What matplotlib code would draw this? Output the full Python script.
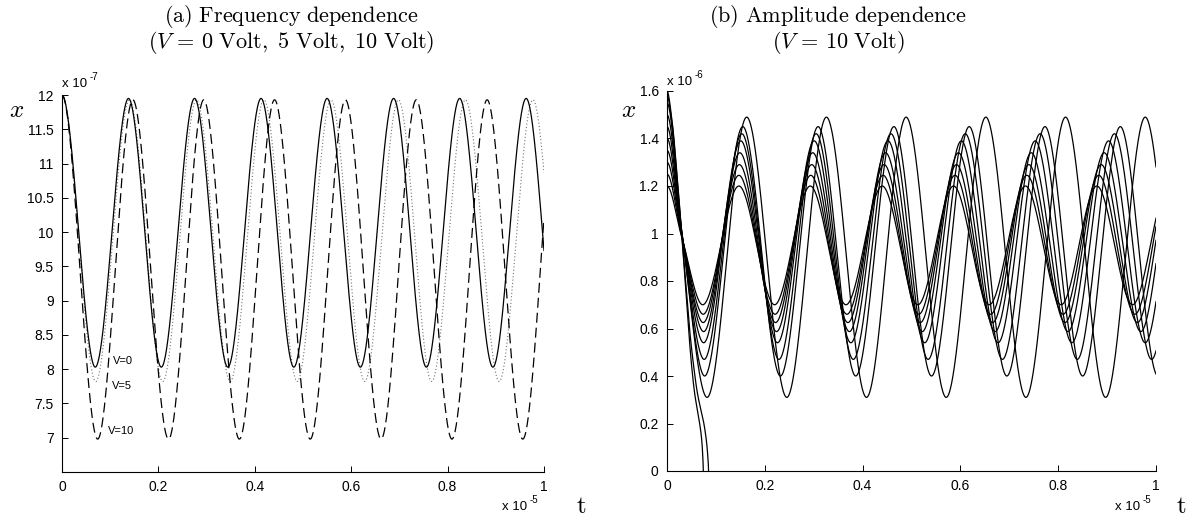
#!/usr/bin/env python3
"""Two-panel oscillation plot: (a) frequency vs bias voltage, (b) amplitude dependence."""
import matplotlib
matplotlib.use("Agg")
import matplotlib.pyplot as plt
import numpy as np

plt.rcParams["mathtext.fontset"] = "cm"
plt.rcParams["font.family"] = ["Liberation Sans", "DejaVu Sans"]

# ---- panel (a): extrema of x (units of 1e-7) ------------------------------
V0_T = [0, .069, .138, .206, .275, .344, .413, .481, .550, .619, .688, .756,
        .825, .894, .963, 1.031]
V0_HI, V0_LO = 11.95, 8.03
V5_T = [0, .070, .140, .209, .279, .349, .419, .488, .558, .628, .698, .767,
        .837, .907, .977, 1.046]
V5_HI, V5_LO = 11.93, 7.82
V10_T = [0, .074, .147, .221, .294, .368, .441, .515, .588, .662, .735, .809,
         .882, .956, 1.029]
V10_HI, V10_LO = 11.93, 6.98

# ---- panel (b): extrema of x (units of 1e-6), one row per amplitude --------
AMP_START = [1.20, 1.25, 1.30, 1.35, 1.40, 1.45, 1.50, 1.55]
AMP_HI = [1.20, 1.245, 1.29, 1.34, 1.39, 1.42, 1.45, 1.49]
AMP_LO = [0.70, 0.66, 0.625, 0.587, 0.54, 0.47, 0.40, 0.31]
AMP_T = [
    [0, .073, .147, .220, .293, .366, .440, .513, .586, .659, .733, .806, .879, .952, 1.025],
    [0, .074, .147, .221, .294, .368, .442, .515, .589, .662, .736, .810, .883, .957, 1.030],
    [0, .074, .148, .222, .296, .370, .444, .518, .592, .666, .740, .814, .888, .962, 1.036],
    [0, .075, .149, .224, .298, .373, .447, .522, .596, .671, .745, .820, .894, .969, 1.043],
    [0, .075, .151, .226, .301, .376, .452, .527, .602, .677, .753, .828, .903, .978, 1.054],
    [0, .076, .153, .229, .305, .381, .458, .534, .610, .686, .763, .839, .915, .991, 1.068],
    [0, .077, .155, .232, .309, .386, .464, .541, .618, .695, .773, .850, .927, 1.004],
    [0, .082, .163, .245, .326, .408, .489, .571, .652, .734, .815, .897, .978, 1.060],
]
# two runs that escape to x = 0
ESC_A_T = [0, .010, .020, .030, .037, .044, .050, .057, .062, .066, .0695, .0718, .0732, .0740, .0746]
ESC_A_X = [1.60, 1.48, 1.26, 1.00, .80, .60, .45, .32, .26, .21, .16, .11, .06, .02, -.05]
ESC_B_T = [0, .010, .020, .030, .038, .046, .054, .062, .069, .0745, .0785, .0815, .0835, .0847, .0855]
ESC_B_X = [1.58, 1.47, 1.25, 1.00, .80, .60, .45, .33, .26, .21, .16, .11, .06, .02, -.05]


def pchip(xk, yk, xs, end_slope=False):
    xk = np.asarray(xk, float)
    yk = np.asarray(yk, float)
    h = np.diff(xk)
    d = np.diff(yk) / h
    m = np.zeros_like(yk)
    for i in range(1, len(xk) - 1):
        if d[i - 1] * d[i] > 0:
            w1 = 2 * h[i] + h[i - 1]
            w2 = h[i] + 2 * h[i - 1]
            m[i] = (w1 + w2) / (w1 / d[i - 1] + w2 / d[i])
    if end_slope:
        m[-1] = d[-1]
    idx = np.clip(np.searchsorted(xk, xs) - 1, 0, len(xk) - 2)
    s = (xs - xk[idx]) / h[idx]
    h00 = 2 * s**3 - 3 * s**2 + 1
    h10 = s**3 - 2 * s**2 + s
    h01 = -2 * s**3 + 3 * s**2
    h11 = s**3 - s**2
    return (h00 * yk[idx] + h10 * h[idx] * m[idx]
            + h01 * yk[idx + 1] + h11 * h[idx] * m[idx + 1])


def alternating(times, start, hi, lo):
    vals = [start]
    for k in range(1, len(times)):
        vals.append(lo if k % 2 else hi)
    return vals


def style(ax, xlim, ylim, yticks, ylabels):
    ax.set_xlim(*xlim)
    ax.set_ylim(*ylim)
    ax.set_xticks([0, .2, .4, .6, .8, 1])
    ax.set_xticklabels(["0", "0.2", "0.4", "0.6", "0.8", "1"])
    ax.set_yticks(yticks)
    ax.set_yticklabels(ylabels)
    for side in ("top", "right"):
        ax.spines[side].set_visible(False)
    for side in ("left", "bottom"):
        ax.spines[side].set_linewidth(0.8)
    ax.tick_params(direction="in", length=4, width=0.7, labelsize=10, pad=6)


W, H = 1198, 520
fig = plt.figure(figsize=(W / 100, H / 100), dpi=100)
axL = fig.add_axes([62 / W, 48 / H, 482 / W, 377 / H])
axR = fig.add_axes([667 / W, 49 / H, 489 / W, 380 / H])

t = np.linspace(0, 1, 3000)

# panel (a)
axL.plot(t, pchip(V5_T, alternating(V5_T, 12.0, V5_HI, V5_LO), t),
         color="0.45", lw=0.8, linestyle=(0, (1, 2)))
axL.plot(t, pchip(V10_T, alternating(V10_T, 12.0, V10_HI, V10_LO), t),
         color="black", lw=0.9, linestyle=(0, (8, 4)))
axL.plot(t, pchip(V0_T, alternating(V0_T, 12.0, V0_HI, V0_LO), t),
         color="black", lw=0.9)
axL.text(0.106, 8.12, "V=0", fontsize=8, va="center")
axL.text(0.103, 7.76, "V=5", fontsize=8, va="center")
axL.text(0.096, 7.10, "V=10", fontsize=8, va="center")
style(axL, (0, 1), (6.5, 12), np.arange(7, 12.01, 0.5),
      ["7", "7.5", "8", "8.5", "9", "9.5", "10", "10.5", "11", "11.5", "12"])

# panel (b)
for k in range(len(AMP_T)):
    knots_t = list(AMP_T[k])
    knots_x = alternating(AMP_T[k], AMP_START[k], AMP_HI[k], AMP_LO[k])
    # all runs pass close to x = 1.0 at t = 0.03
    knots_t.insert(1, 0.03)
    knots_x.insert(1, 1.0 + 0.004 * (k - 3.5))
    axR.plot(t, pchip(knots_t, knots_x, t), color="black", lw=0.9)
for et, ex in ((ESC_A_T, ESC_A_X), (ESC_B_T, ESC_B_X)):
    te = np.linspace(0, et[-1], 600)
    axR.plot(te, pchip(et, ex, te, end_slope=True), color="black", lw=0.9)
style(axR, (0, 1), (0, 1.6), np.arange(0, 1.61, 0.2),
      ["0", "0.2", "0.4", "0.6", "0.8", "1", "1.2", "1.4", "1.6"])

# multipliers, axis labels and titles
for xpx, ypx, exp in ((62, 87, "-7"), (667, 85, "-6"), (502, 510, "-5"), (1115, 510, "-5")):
    fig.text(xpx / W, 1 - ypx / H, "x 10", fontsize=9.5, va="baseline")
    fig.text((xpx + 28) / W, 1 - (ypx - 7) / H, exp, fontsize=7, va="baseline")

fig.text(17 / W, 1 - 110 / H, r"$x$", fontsize=18, ha="center", va="center")
fig.text(629 / W, 1 - 110 / H, r"$x$", fontsize=18, ha="center", va="center")
fig.text(581 / W, 1 - 506 / H, r"$\mathrm{t}$", fontsize=18, ha="center", va="center")
fig.text(1181 / W, 1 - 506 / H, r"$\mathrm{t}$", fontsize=18, ha="center", va="center")

fig.text(291 / W, 1 - 16 / H, r"$\mathrm{(a)\ Frequency\ dependence}$",
         fontsize=16, ha="center", va="center")
fig.text(291 / W, 1 - 42 / H, r"$(V\,=\,0\ \mathrm{Volt,\ 5\ Volt,\ 10\ Volt})$",
         fontsize=16, ha="center", va="center")
fig.text(838 / W, 1 - 16 / H, r"$\mathrm{(b)\ Amplitude\ dependence}$",
         fontsize=16, ha="center", va="center")
fig.text(838 / W, 1 - 42 / H, r"$(V\,=\,10\ \mathrm{Volt})$",
         fontsize=16, ha="center", va="center")

fig.savefig("out.png", dpi=100)
